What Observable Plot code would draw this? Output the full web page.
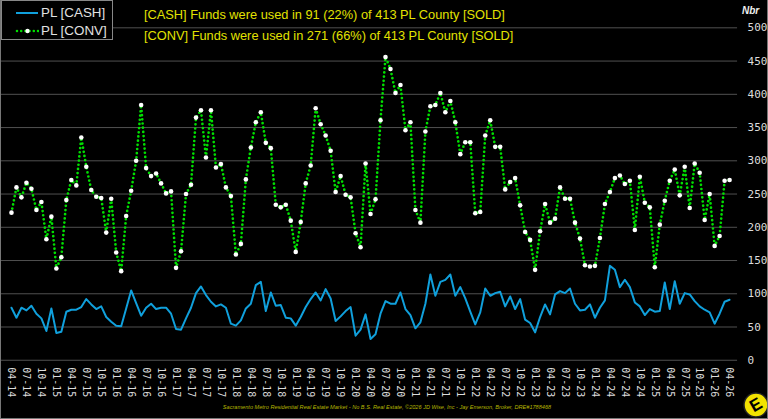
<!DOCTYPE html>
<html>
<head>
<meta charset="utf-8">
<script src="https://cdn.jsdelivr.net/npm/d3@7"></script>
<script src="https://cdn.jsdelivr.net/npm/@observablehq/plot@0.6"></script>
<style>
  html, body { margin: 0; padding: 0; background: #000; }
  #wrap { position: relative; width: 768px; height: 419px; background: #000; overflow: hidden;
          box-sizing: border-box; border-left: 1px solid #777; border-right: 1px solid #777; border-bottom: 1px solid #777; }
  #chart { position: absolute; left: 0; top: 0; }
  .legend { position: absolute; left: 0; top: 0; width: 112px; height: 40px; background: #000;
            border: 1px solid #888; box-sizing: border-box; font-family: "Liberation Sans", Arial, sans-serif;
            font-size: 13.4px; color: #e2e2e2; }
  .legend .row { position: absolute; left: 13px; height: 14px; line-height: 14px; white-space: nowrap; }
  .legend svg { vertical-align: middle; margin-right: 2px; }
  .title { position: absolute; left: 143px; font-family: "Liberation Sans", Arial, sans-serif; font-size: 12.8px;
           line-height: 14px; color: #e2e200; white-space: nowrap; }
  .nbr { position: absolute; left: 741px; top: 5px; font-family: "Liberation Sans", Arial, sans-serif;
         font-size: 10px; font-weight: bold; font-style: italic; color: #eee; }
  .footer { position: absolute; left: 0; width: 768px; top: 404px; text-align: center; padding-left: 2px;
            font-family: "Liberation Sans", Arial, sans-serif; font-size: 5.6px; font-style: italic; color: #b5b500; white-space: nowrap; }
  .logo { position: absolute; left: 742px; top: 392px; }
</style>
</head>
<body>
<div id="wrap">
  <div id="chart"></div>
  <div class="legend">
    <div class="row" style="top:5px"><svg width="24" height="6"><line x1="1" y1="3" x2="23" y2="3" stroke="#10a0dc" stroke-width="2"/></svg>PL [CASH]</div>
    <div class="row" style="top:23px"><svg width="24" height="8"><line x1="2" y1="4" x2="23" y2="4" stroke="#00dd00" stroke-width="2.6" stroke-dasharray="0,4.2" stroke-linecap="round"/><circle cx="12.5" cy="4" r="2.2" fill="#fff"/></svg>PL [CONV]</div>
  </div>
  <div class="title" style="top:8px">[CASH] Funds were used in 91 (22%) of 413 PL County [SOLD]</div>
  <div class="title" style="top:29px">[CONV] Funds were used in 271 (66%) of 413 PL County [SOLD]</div>
  <div class="nbr">Nbr</div>
  <div class="footer">Sacramento Metro Residential Real Estate Market - No B.S. Real Estate, ©2026 JD Wise, Inc - Jay Emerson, Broker, DRE#1788468</div>
  <svg class="logo" width="26" height="26" viewBox="0 0 26 26">
    <circle cx="13" cy="13" r="12" fill="#f2e200" stroke="#222" stroke-width="1.5"/>
    <text x="13" y="13" transform="rotate(-30 13 13)" text-anchor="middle" dominant-baseline="central"
          font-family="Liberation Sans, Arial, sans-serif" font-weight="bold" font-size="17" fill="#000">E</text>
  </svg>
</div>
<script>
// Month categories, Apr 2014 .. Apr 2026
const months = [];
for (let k = 0; k < 145; k++) {
  const m = (3 + k) % 12 + 1;
  const yy = 14 + Math.floor((3 + k) / 12);
  months.push(String(m).padStart(2, "0") + "-" + String(yy).padStart(2, "0"));
}
const xTickLabels = months.filter((_, k) => k % 3 === 0);
const yTickValues = [0, 50, 100, 150, 200, 250, 300, 350, 400, 450, 500];

const convValues = [
  222, 260, 245, 267, 258, 226, 238, 182, 216, 138, 155, 241,
  271, 263, 335, 291, 256, 246, 244, 192, 243, 162, 134, 217,
  255, 300, 384, 289, 277, 281, 266, 251, 254, 139, 164, 250,
  264, 365, 376, 305, 376, 290, 295, 260, 247, 159, 175, 272,
  320, 358, 373, 327, 319, 234, 230, 234, 210, 163, 208, 266,
  293, 379, 355, 338, 315, 253, 277, 249, 245, 191, 170, 296,
  220, 242, 361, 456, 438, 402, 414, 346, 358, 226, 207, 344,
  382, 384, 402, 373, 390, 358, 310, 328, 328, 221, 223, 338,
  361, 321, 321, 257, 268, 274, 233, 193, 181, 136, 194, 235,
  207, 213, 260, 243, 243, 207, 183, 143, 141, 142, 184, 235,
  253, 274, 278, 265, 270, 196, 276, 237, 230, 140, 204, 240,
  270, 287, 248, 291, 229, 296, 282, 211, 250, 172, 187, 270,
  271
];
const cashValues = [
  79, 64, 79, 75, 82, 70, 63, 44, 78, 41, 43, 73,
  76, 76, 80, 92, 84, 77, 81, 65, 58, 52, 51, 78,
  105, 86, 67, 79, 85, 77, 79, 79, 70, 47, 46, 63,
  79, 101, 111, 98, 88, 81, 84, 79, 55, 52, 60, 78,
  85, 113, 118, 74, 102, 82, 83, 64, 63, 52, 65, 80,
  92, 102, 90, 107, 93, 59, 66, 74, 80, 37, 46, 69,
  32, 39, 70, 89, 85, 85, 102, 77, 68, 48, 57, 85,
  129, 97, 118, 121, 129, 97, 110, 93, 73, 54, 72, 108,
  97, 101, 103, 81, 96, 77, 92, 61, 56, 42, 65, 84,
  69, 99, 104, 101, 108, 85, 75, 76, 84, 64, 79, 90,
  142, 136, 110, 121, 110, 87, 81, 68, 77, 73, 74, 117,
  77, 119, 85, 101, 99, 89, 81, 76, 72, 55, 70, 88,
  91
];

const data = months.map((m, k) => ({ month: m, conv: convValues[k], cash: cashValues[k] }));

const chart = Plot.plot({
  width: 768,
  height: 419,
  marginTop: 27.4,
  marginBottom: 58.3,
  marginLeft: 0,
  marginRight: 30,
  style: { background: "transparent", color: "#ddd", fontFamily: "DejaVu Sans Mono, monospace", overflow: "visible" },
  x: { type: "point", domain: months, range: [2.7, 736.4], padding: 0 },
  y: { domain: [0, 500] },
  marks: [
    Plot.ruleY(yTickValues, { stroke: "#505050", strokeWidth: 1 }),
    Plot.axisY(yTickValues, { anchor: "right", tickSize: 0, tickPadding: 10, fontSize: 11, fill: "#dcdcdc", label: null, tickFormat: d => String(d) }),
    Plot.axisX(xTickLabels, { anchor: "bottom", tickSize: 0, tickPadding: 7, tickRotate: 90, fontSize: 10, fill: "#dcdcdc", label: null }),
    Plot.line(data, { x: "month", y: "conv", stroke: "#00e000", strokeWidth: 2.7, strokeDasharray: "0,4.2", strokeLinecap: "round" }),
    Plot.dot(data, { x: "month", y: "conv", r: 2.3, fill: "#ffffff", stroke: null }),
    Plot.line(data, { x: "month", y: "cash", stroke: "#10a0dc", strokeWidth: 2 })
  ]
});
document.getElementById("chart").appendChild(chart);
</script>
</body>
</html>
